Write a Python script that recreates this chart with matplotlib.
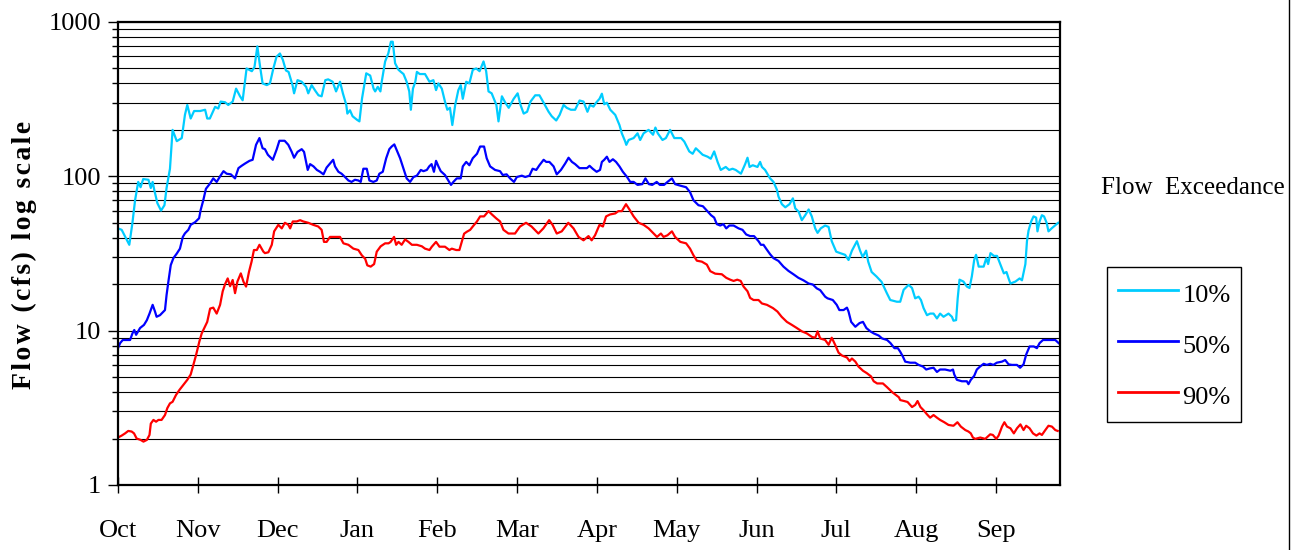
import matplotlib
matplotlib.use("Agg")
import matplotlib.pyplot as plt
from matplotlib.lines import Line2D
from matplotlib.ticker import LogLocator, NullFormatter
import numpy as np

plt.rcParams['font.family'] = ['Liberation Serif', 'DejaVu Serif']

months = ['Oct', 'Nov', 'Dec', 'Jan', 'Feb', 'Mar', 'Apr', 'May', 'Jun', 'Jul', 'Aug', 'Sep']

# 10% exceedance flow (cfs), day of water year
days_10 = [0, 1.4, 4.3, 5.5, 6.5, 7.7, 8.6, 9.6, 11.6, 12.5, 13.2, 13.8, 15, 16.4, 17.7, 18.5, 19.8, 20.8,
           22.4, 24.3, 25.5, 26.4, 27.7, 29, 31.3, 33.2, 34, 35, 37, 38.2, 39.1, 40.8, 42, 43.7, 45, 46.5,
           47.5, 49, 51, 52, 53.1, 54.1, 55.1, 56.7,
           57.9, 59.2, 60.4, 61.7, 62.8, 64, 65, 66.5, 67.1, 68.4, 70, 71.7, 72.5, 73.8, 75.1, 76.4, 77.6,
           79, 80.1, 81.8, 83.1, 84.6, 85.7, 87, 87.4, 88.4, 89.4, 91, 92, 93, 94.6, 96.1, 97.4, 98, 99, 100,
           100.5, 101.8, 103, 104, 104.7, 105.6, 106.9, 107.8, 108.8, 110, 111, 111.6, 112.4, 113.3, 113.9,
           115, 116.4,
           117, 118.7, 120.2, 121.2, 122.1, 123.4, 124.6, 125.5, 126.5, 127.4, 128.5, 129.7, 130.6, 131.4,
           132.7, 133.9, 135.2, 136.5, 137.8, 139.3, 140.3, 141.2, 142.4, 144.2, 145, 146.3, 147.6, 148.9,
           150.8, 152.3, 153.4, 154.6, 155.9, 157.2, 159, 160.6, 162.2, 164.1, 165.3, 167, 168.3, 169.8,
           171, 172.6, 174.2, 175.9, 177.4,
           178.9, 179.9, 181.2, 182.2, 183.5, 184.4, 185.3, 186.3, 187.6, 189.5, 191.1, 192, 193.3, 193.7,
           194.6, 196.5, 198, 199, 200.3, 202.2, 203.9, 204.8, 205.7, 207.5, 208.8, 210.4, 212, 214.6,
           215.8, 217.7, 219, 220.2, 221.5, 222.8, 224.7, 225.9, 227.2, 228.5, 229.7, 231.6, 232.9, 234.2,
           235.4, 237.4,
           239, 239.9, 240.7, 241.9, 243.7, 244.7, 245.4, 246.6, 248.5, 249.8, 251.1, 251.7, 253, 254.3,
           255.9, 257.2, 258.1, 259.4, 260.6, 261.9, 263.2, 264.4, 265.7, 266.6, 267.8, 269.5, 270.8, 272,
           273.7, 275.2, 277.1, 278.4, 279.7, 281.6, 282.8, 283.8, 285.1, 285.9, 287.2, 289.1, 291, 293,
           294.3, 296.8, 298.1,
           299.4, 301.3, 302.6, 303.8, 305.1, 306, 307, 308.3, 309.5, 310.8, 312.1, 313.3, 314.6, 316.5,
           317.8, 318.4, 319.4, 320, 320.7, 322.2, 323.5, 324.5, 325.4, 326.3, 327, 328, 329.9, 330.9,
           331.6, 332.5, 333.8, 335, 336.2, 337.6, 338.6, 339.4, 340.1, 342, 343.6, 344.5, 345.8, 346.4,
           347, 348, 348.9, 349.9, 350.4, 351.2, 352.1, 352.9, 353.9, 354.6, 355.8, 357.1, 358.3]
q10 = [46, 45, 36, 50, 70, 92, 85, 96, 95, 84, 92, 82, 67, 60, 65, 84, 112, 200,
       169, 177, 250, 290, 237, 265, 265, 270, 237, 237, 282, 275, 305, 302, 290, 305, 370, 330,
       311, 500, 480, 510, 695, 520, 400, 390,
       400, 500, 595, 625, 570, 485, 475, 390, 345, 420, 410, 380, 345, 390, 360, 335, 330,
       420, 425, 410, 355, 410, 345, 290, 255, 268, 245, 233, 227, 320, 465, 450, 370, 355, 380, 355,
       410, 555, 625, 745, 745, 540, 490, 475, 460, 410, 355, 270, 370, 410, 475,
       460, 460,
       460, 410, 420, 362, 400, 370, 305, 270, 278, 215, 290, 362, 390, 318,
       410, 400, 490, 500, 480, 555, 480, 355, 345, 290, 227, 330, 300, 278,
       318, 345, 290, 255, 262, 305, 335, 335, 300, 262, 245, 230, 250, 290,
       278, 270, 270, 310, 305,
       262, 290, 283, 300, 318, 343, 293, 300, 270, 250, 215, 190, 168, 160,
       172, 177, 190, 172, 190, 200, 186, 207, 190, 172, 177, 200, 177, 177,
       168, 145, 140, 152, 145, 138, 134, 130, 145, 124, 110, 115, 110, 112,
       110, 104,
       120, 132, 115, 118, 115, 124, 115, 110, 97, 92, 82, 74, 66, 63,
       66, 72, 62, 59, 52, 56, 61, 55, 46, 43, 46, 48, 47, 38,
       32.5, 31.8, 31, 28.7, 33, 38, 33, 30, 33, 28, 24, 22.4, 20.7, 17.5,
       15.8, 15.4, 15.4,
       18.4, 19.8, 18.9, 16.2, 16.6, 15.8, 14, 12.6, 12.9, 12.9, 12, 12.9, 12.3, 12.9,
       12.3, 11.6, 11.7, 16.2, 21.4, 20.8, 19.3, 18.9, 22.5, 28.8, 31, 26, 26, 29.5,
       27, 31.8, 30.5, 30.5, 27, 23.5, 24, 21.8, 20.2, 20.8, 21.8, 21.2, 27, 38,
       44.5, 51, 55, 54, 44, 51, 56, 55, 50, 44, 46, 48, 50]

# 50% exceedance flow (cfs)
days_50 = [0, 0.8, 1.8, 4.6, 5.5, 6.2, 6.9, 8.4, 9.9, 11, 12, 13.2, 14.1, 14.7, 16, 17.9, 18.5, 19.2,
           20.1, 21.1, 22.4, 23.6, 24.7, 25.5, 26.8, 27.7, 29.4, 30.9, 31.5, 32.5, 33.5, 35.1, 36.3,
           37.6, 38.9, 40.2, 41.4, 43, 44.6, 45.9, 47.1, 48.4, 50.1, 51.3, 52.6, 53.9, 55.1,
           56, 57.1, 59, 60.5, 61.5, 63.5, 64.9, 66.2, 67.1, 68.4, 70, 70.9, 72.3, 73.2, 74.5, 75.8, 77,
           78.3, 79.5, 80.8, 82, 82.7, 84, 85.2, 86.5, 87.8, 89, 90.3, 91.6, 92.5, 93.5, 94.8, 95.8,
           97.3, 98.6, 99.6, 100.9, 102.2, 103.4, 104.3, 105.3, 106.5, 107.5, 108.8, 110, 111.3, 112.6,
           113.9, 115.4, 116.4,
           117.7, 118.6, 119.5, 120.4, 121.2, 122.1, 123, 124.6, 125.9, 126.9, 127.8, 129.1, 130.6,
           131.4, 132.7, 133.9, 135.2, 136.8, 138, 139.5, 140.5, 141.8, 143.7, 145.6, 146.6, 148.1,
           149.4, 150.9, 152, 153.9, 155.2, 156.8, 158, 159.4, 160.6, 162.2, 163.2, 164.4, 166, 167.2,
           168.8, 170.4, 171.7, 173, 174.2, 175.9, 178.7,
           179.7, 180.9, 182.4, 183.7, 184.4, 185.3, 186.3, 187.3, 188.6, 189.8, 191.1, 192.4, 194,
           195.2, 196.5, 198, 199.8, 201, 202.3, 203.6, 205.3, 206.5, 208.1, 209.4, 211.1, 212.3,
           214.3, 216.5, 218, 219.3, 221.2, 222.9, 224.4, 226, 227.2, 228.2, 229.5, 230.7, 231.8,
           233, 234.6, 236.5, 238,
           239.4, 240.9, 242.4, 244.1, 245, 246, 247, 248.5, 249.8, 251.7, 253.6, 255.5, 257.4, 259.3,
           261.2, 263.2, 264.8, 266.3, 267.6, 269.5, 270.4, 272.4, 273.9, 274.9, 276.5, 277.8, 278.4,
           279.4, 281, 282.6, 283.9, 285.2, 286.7, 288, 289.9, 291.2, 293.1, 294.4, 295.9, 297.2,
           298.1, 299.1, 300, 301.9, 303.8, 305.1, 306.8, 308, 309.5, 310.8, 312.1, 313.3, 315.2,
           317.2, 318.2, 318.7, 319.7, 321.6, 323.5, 324.1, 325, 326.3, 327.3, 328.5, 329.9, 331.1,
           332.4, 333.6, 334.9, 336.9, 338.1, 339.4, 340.7, 342.6, 343.8, 345.1, 346.1, 347.4, 349,
           350.2, 351.2, 352.5, 354, 355.9, 357.2, 358.5]
q50 = [7.7, 8.3, 8.7, 8.7, 9.6, 10.1, 9.4, 10.4, 10.9, 11.7, 12.9, 14.7, 13.3, 12.3, 12.6, 13.6, 17, 20.8,
       26.6, 29.5, 31.6, 34, 40.5, 42.7, 45, 48.5, 50.5, 53.5, 60.5, 70, 83, 90, 97,
       92, 100, 108, 104, 103, 97, 113, 117, 121, 126, 128, 160, 177, 152,
       150, 138, 128, 150, 170, 170, 160, 144, 132, 144, 150, 144, 110, 120, 116, 110, 107,
       103, 114, 121, 128, 116, 107, 104, 99, 94, 92, 95, 94, 92, 112, 112, 94,
       92, 94, 104, 107, 131, 150, 156, 161, 144, 131, 112, 97, 92, 99,
       101, 110, 108,
       110, 116, 120, 107, 126, 116, 108, 102, 94, 88, 92, 97, 97,
       116, 124, 118, 131, 140, 156, 156, 131, 116, 110, 108, 102, 103,
       97, 92, 99, 101, 99, 101, 112, 110, 118, 128, 124, 124, 116, 103,
       110, 121, 132, 124, 120, 113, 113,
       117, 112, 107, 110, 124, 128, 134, 124, 129, 124, 116, 107, 99,
       92, 92, 88, 89, 97, 89, 88, 92, 88, 88, 92, 97, 89,
       87, 85, 79, 70, 65, 64, 60, 56, 54, 49, 48, 49, 46,
       48, 48, 46, 45,
       42, 41, 41, 38, 36, 36, 34, 31.3, 29.5, 28.3, 26, 24.4, 23.2, 22,
       21.2, 20.2, 19.9, 18.8, 18.3, 16.6, 16.2, 15.8, 14.7, 13.6, 13.6, 14.1, 13.3,
       11.4, 10.6, 11.2, 11.4, 10.4, 9.9, 9.6, 9.3, 8.9, 8.7, 8.3, 7.7, 7.7,
       7.3, 6.8, 6.3, 6.2, 6.2, 6, 5.85, 5.6, 5.7, 5.75, 5.4, 5.6, 5.6,
       5.5, 5.6, 5.2, 4.8, 4.7, 4.7, 4.5, 4.8, 5.1, 5.6, 5.85, 6.1, 6,
       6.1, 6, 6.2, 6.3, 6.45, 6.05, 6, 6, 5.75, 6.05, 7, 7.9, 7.9,
       7.7, 8.3, 8.7, 8.7, 8.7, 8.7, 8.3]

# 90% exceedance flow (cfs)
days_90 = [0, 1.4, 2.7, 3.9, 5.2, 6.1, 7.1, 8.6, 9.7, 11, 12, 12.5, 13.5, 14.5, 15.4, 16.6, 17.9, 18.8,
           19.8, 20.8, 22.1, 23.4, 24.9, 26.4, 27.7, 28.7, 29.7, 31, 31.9, 33.1, 34, 35.1, 36.3, 37.6,
           38.9, 39.9, 40.8, 41.8, 42.7, 43.7, 44.6, 45.5, 46.8, 47.8, 48.8, 49.9, 50.9, 51.8, 52.9,
           53.9, 55.4,
           56, 57.3, 58.6, 59.5, 61.1, 62.4, 63.6, 64.9, 65.6, 66.6, 68.1, 69.4, 70.6, 72.5, 74.4, 76.3,
           77.6, 78.5, 79.5, 80.8, 82.7, 84.6, 85.9, 87.8, 89.7, 91.6, 92.9, 94.2, 95, 96.3, 97.6, 98.6,
           100.1, 101.8, 103.1, 103.9, 105.2, 106, 106.9, 108.1, 109.4, 110.7, 112, 113.9, 115.8, 117,
           118.7, 119.6, 121.2, 122.5, 124.6, 126.3, 127.2, 128.9, 130.1, 131, 131.9, 132.9, 134.2,
           135.2, 136.8, 138, 139.5, 141.2, 142.5, 144.2, 145.6, 146.9, 148.8, 151.3, 153.2, 155.5,
           157.6, 160.2, 162.1, 164.3, 165.6, 167.2, 169.1, 171.6, 173.6, 175.5, 177.4,
           179.3, 180.5, 181.8, 183.5, 184.8, 186, 187.5, 189.5, 190.7, 192, 193.6, 194.9, 196.5,
           198.4, 200.3, 202.2, 204.1, 205.4, 206.9, 207.9, 209.4, 211.1, 212.3, 214.3, 216.5, 218,
           219.3, 220.6, 222.5, 224.4, 225.7, 227.6, 230.1, 231.8, 233.3, 234.6, 236, 237.3,
           238.4, 239.9, 240.9, 242.2, 244.1, 245.4, 247.3, 249.6, 251.3, 252.9, 254.9, 256.8, 258.7,
           260.6, 262.5, 264.5, 265.7, 266.6, 267.6, 269.5, 270.8, 272, 273.3, 274.6, 275.9, 277.8,
           278.8, 279.7, 281, 282.2, 283.9, 285.4, 287, 288, 289.3, 291.5, 293.1, 295, 296.3, 297.6,
           298.1, 299.6, 300.9, 302.6, 303.8, 304.7, 305.8, 307, 308.3, 309.5, 310.8, 312.1, 313.3,
           314.9, 316.5, 318.4, 319.9, 321.2, 322.9, 324.1, 325, 325.8, 326.7, 328.6, 330.5, 332.4,
           333.4, 334.7, 335.6, 336.9, 337.8, 338.8, 340.1, 341.4, 342.6, 343.9, 345.1, 346.1, 347.4,
           348.7, 350, 351.2, 352.1, 353.4, 354.6, 355.9, 357.2, 358.1]
q90 = [2.03, 2.09, 2.16, 2.24, 2.22, 2.16, 2.0, 1.96, 1.91, 1.96, 2.11, 2.5, 2.64, 2.57, 2.64, 2.64, 2.84, 3.15,
       3.38, 3.46, 3.83, 4.13, 4.45, 4.8, 5.2, 6, 6.9, 8.5, 9.6, 10.6, 11.4, 13.9, 14.1, 12.9,
       14.7, 18, 20, 21.8, 19.4, 21.3, 17.5, 20.8, 23.5, 20.8, 19.3, 24, 28, 33.3, 33.3,
       36, 32.5,
       31.8, 32.2, 36, 44, 48.5, 46, 50, 48.5, 46, 51, 51, 52, 51, 50, 48.5, 47.3,
       45, 37.6, 37.6, 40.5, 40.5, 40.5, 36.8, 36, 34, 33.3, 30.8, 29.2, 26.5, 26, 27, 32.5,
       35.2, 36.8, 36.8, 37.6, 40.5, 36, 37.6, 36, 39, 37.6, 36, 36, 35.2, 34,
       33.3, 35, 37.6, 35, 35, 33.3, 34, 33.3, 33.3, 37.6, 42.5, 43.7, 45,
       47.3, 51, 55, 55, 59.5, 56.6, 53.3, 51, 45, 42.6, 42.6, 47.3, 50,
       47.3, 42.6, 46, 52, 48.5, 42.6, 44, 50, 46, 40.5, 38.5,
       41, 38.5, 41.5, 48.5, 47.3, 55, 56.6, 57.5, 59.5, 59.5, 66, 61, 55,
       50, 48.5, 46, 42.6, 40.5, 42.6, 40.5, 41.5, 44, 40.5, 37.6, 36.8, 34,
       30.8, 28.4, 28, 26.8, 24.3, 23.4, 23.2, 22, 21.4, 21, 21.4, 21,
       19.3, 18, 16.3, 15.8, 15.8, 15, 14.7, 14, 13.3, 12.3, 11.4, 10.9, 10.4,
       9.9, 9.6, 9.1, 9, 9.9, 8.9, 8.7, 8.1, 9, 8.1, 7.2, 6.9, 6.7,
       6.35, 6.6, 6.3, 5.85, 5.5, 5.3, 5.05, 4.7, 4.55, 4.55, 4.3, 4, 3.85, 3.7,
       3.55, 3.5, 3.45, 3.2, 3.3, 3.5, 3.2, 3.05, 2.87, 2.73, 2.84, 2.73, 2.64,
       2.55, 2.45, 2.42, 2.55, 2.39, 2.27, 2.22, 2.16, 2.03, 1.99, 2.03, 1.99, 2.13,
       2.11, 1.99, 2.09, 2.39, 2.55, 2.39, 2.33, 2.16, 2.33, 2.47, 2.27, 2.42, 2.33,
       2.16, 2.09, 2.16, 2.11, 2.27, 2.42, 2.39, 2.27, 2.24]

fig = plt.figure(figsize=(13.04, 5.5), dpi=100)
ax = fig.add_axes([0.0905, 0.1182, 0.7224, 0.8418])

l10, = ax.plot(days_10, q10, color='#00ccff', lw=1.6, label='10%')
l50, = ax.plot(days_50, q50, color='#0000ff', lw=1.6, label='50%')
l90, = ax.plot(days_90, q90, color='#ff0000', lw=1.6, label='90%')

ax.set_yscale('log')
ax.set_ylim(1, 1000)
ax.set_xlim(0, 359)

ax.set_yticks([1, 10, 100, 1000])
ax.set_yticklabels(['1', '10', '100', '1000'])
ax.yaxis.set_minor_locator(LogLocator(base=10, subs=np.arange(2, 10)))
ax.yaxis.set_minor_formatter(NullFormatter())
ax.grid(True, which='both', axis='y', color='black', lw=0.8)
ax.set_axisbelow(True)

ax.set_xticks(np.arange(12) * 365 / 12)
ax.set_xticklabels(months)

ax.tick_params(axis='y', which='major', direction='out', length=7, width=1, labelsize=19, pad=5)
ax.tick_params(axis='y', which='minor', direction='out', length=4, width=1)
ax.tick_params(axis='x', which='major', direction='inout', length=12, width=1, labelsize=19, pad=19)

for s in ax.spines.values():
    s.set_linewidth(1.6)
    s.set_color('black')

ylab = "\u200a".join("Flow (cfs) log scale")
fig.text(24 / 1304, 1 - 255 / 550, ylab, rotation=90, ha='center', va='center',
         fontsize=20, fontweight='bold')

fig.text(1101 / 1304, 1 - 188 / 550, "Flow  Exceedance", ha='left', va='center', fontsize=18)

leg = fig.legend(handles=[l10, l50, l90], loc='upper left',
                 bbox_to_anchor=(1107 / 1304, 1 - 267 / 550), bbox_transform=fig.transFigure,
                 fontsize=19, frameon=True, fancybox=False, framealpha=1,
                 handlelength=2.3, handleheight=1.44, handletextpad=0.15, labelspacing=0.76,
                 borderpad=0.4, borderaxespad=0)
leg.get_frame().set_edgecolor('black')
leg.get_frame().set_linewidth(1.0)
for h in leg.get_lines():
    h.set_linewidth(2.0)

fig.add_artist(Line2D([1289 / 1304, 1289 / 1304], [0, 1], transform=fig.transFigure,
                      color='black', lw=1.0))

fig.savefig('out.png', dpi=100)
